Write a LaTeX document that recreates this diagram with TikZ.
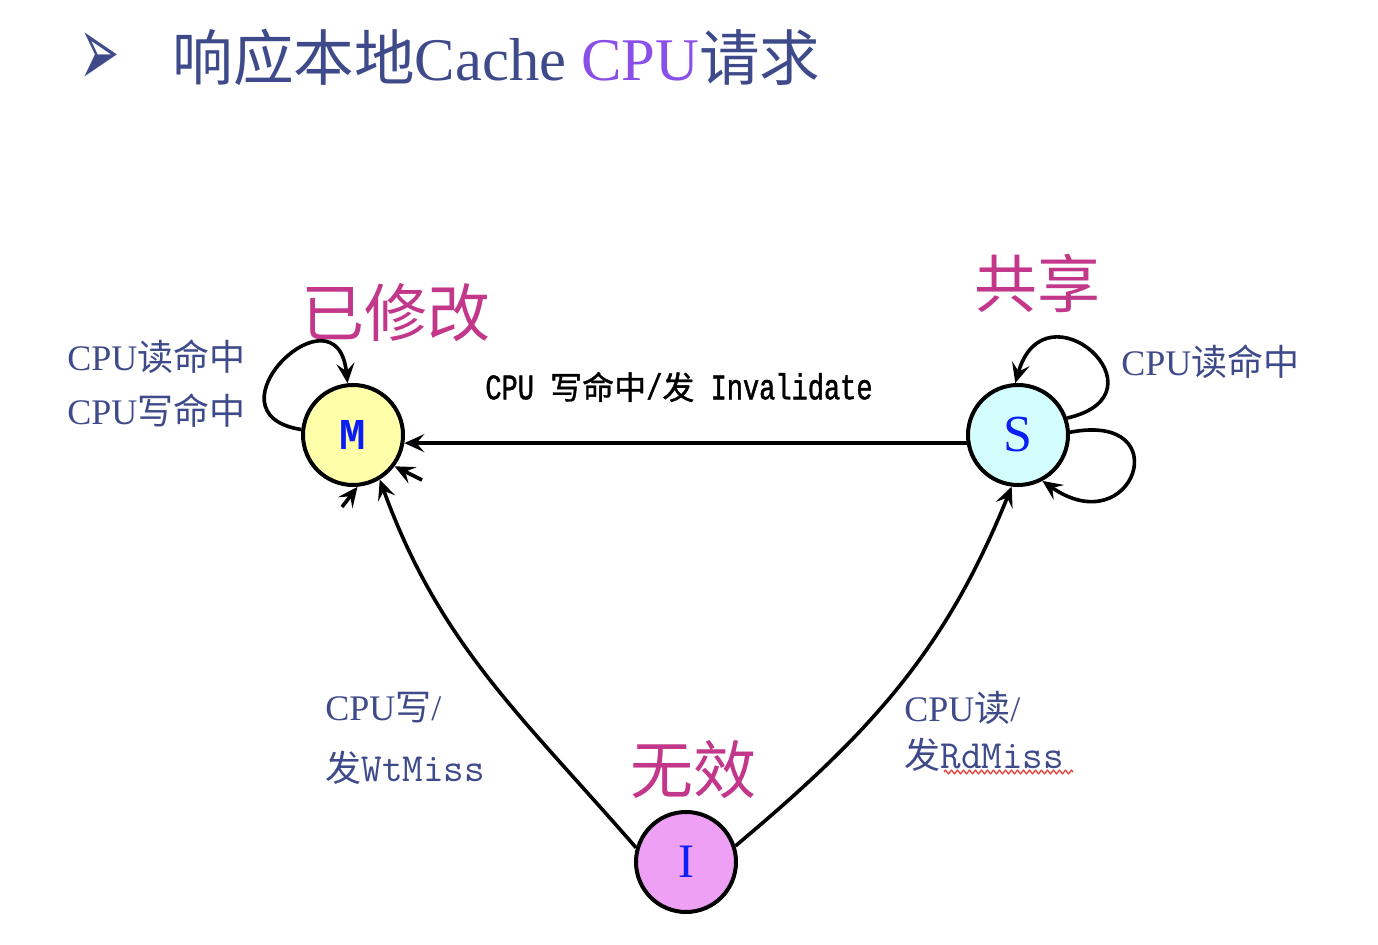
\documentclass[tikz,border=0pt]{standalone}
\usepackage{fontspec}
\setmainfont{Liberation Serif}
\newfontfamily\cjk{Noto Sans CJK SC}
\newfontfamily\cjkbold[FakeBold=1.2]{Noto Sans CJK SC}
\newfontfamily\monofont{Liberation Mono}
\newfontfamily\narrowmono[FakeStretch=0.75,FakeBold=1.2]{Liberation Mono}
\newfontfamily\symfont{DejaVu Sans}
\usepackage{xcolor}
\usepackage{tikz}
\usetikzlibrary{arrows.meta}
\usetikzlibrary{automata}
\usetikzlibrary{positioning}
\usetikzlibrary{decorations.pathmorphing}

\definecolor{labblue}{RGB}{63,74,138}
\definecolor{cpupurple}{RGB}{138,79,232}
\definecolor{headpink}{RGB}{194,55,138}
\definecolor{stblue}{RGB}{10,30,245}
\definecolor{mfill}{RGB}{255,255,170}
\definecolor{sfill}{RGB}{212,254,254}
\definecolor{ifill}{RGB}{238,160,245}
\definecolor{squig}{RGB}{230,50,40}

\newcommand{\zh}[1]{{\cjk #1}}
\newcommand{\invzh}[1]{{\cjkbold\fontsize{16}{18}\selectfont #1}}
\newcommand{\miss}[1]{{\ttfamily\fontsize{20}{22}\selectfont #1}}

\tikzset{
  every state/.style={draw, line width=2pt, minimum size=50pt, inner sep=0pt, text=stblue},
  trans/.style={line width=1.8pt, -{Stealth[length=10pt,width=9pt,inset=4pt]}},
  zhhead/.style={text=headpink, font=\cjk\fontsize{31.5}{34}\selectfont},
  lab/.style={text=labblue, anchor=west, inner sep=0pt, font=\fontsize{18}{20}\selectfont},
  squiggle/.style={draw=squig, line width=0.6pt, decorate,
    decoration={zigzag, segment length=3pt, amplitude=0.9pt}}
}

\begin{document}
\begin{tikzpicture}[x=0.5pt,y=0.5pt]
    \useasboundingbox (0,0) rectangle (1378,944);

    % title
    \node[text=labblue, inner sep=0pt, font=\symfont\fontsize{24}{26}\selectfont] (bullet) at (100,884)
        {\scalebox{1}[2.1]{➢}};
    \node[anchor=west, inner sep=0pt, text=labblue, font=\fontsize{30.3}{32}\selectfont] (title) at (172,887)
        {\zh{响应本地}Cache \textcolor{cpupurple}{CPU}\zh{请求}};

    % states
    \node[state, fill=mfill, font=\monofont\bfseries\fontsize{22}{24}\selectfont] (M) at (353,509) {M};
    \node[state, fill=sfill, font=\fontsize{26}{28}\selectfont] (S) at (1018,509) {S};
    \node[state, fill=ifill, font=\fontsize{24}{26}\selectfont] (I) at (686,82) {I};

    \node[zhhead] (Mname) at (396,631) {已修改};
    \node[zhhead] (Sname) at (1037,661) {共享};
    \node[zhhead] (Iname) at (693,174) {无效};

    % labels
    \node[lab] (Mrd) at (67,587) {CPU\zh{读命中}};
    \node[lab] (Mwr) at (67,533) {CPU\zh{写命中}};
    \node[lab] (Srd) at (1121,582) {CPU\zh{读命中}};
    \node[lab] (wmA) at (325,236) {CPU\zh{写}/};
    \node[lab] (wmB) at (325,176) {\zh{发}\miss{WtMiss}};
    \node[lab] (rmA) at (904,236) {CPU\zh{读}/};
    \node[lab] (rmB) at (904,189) {\zh{发}\miss{RdMiss}};
    \node[font=\narrowmono\fontsize{18}{20}\selectfont] (inv) at (679,557)
        {CPU \invzh{写命中}/\invzh{发} Invalidate};

    \coordinate (stubA) at (342,437);
    \coordinate (stubB) at (422,464);
    \coordinate (sqL) at (944,172);
    \coordinate (sqR) at (1073,172);

    \path[trans] (S.189) edge (M.-9)
                 (I.164) edge[out=131, in=-70] (M.-59)
                 (I.18) edge[out=40, in=-112] (S.-97)
                 (M.174) edge[out=171, in=96, looseness=4.0] (M.96)
                 (S.19) edge[out=13, in=74, looseness=4.4] (S.93)
                 (S.3) edge[out=11, in=-35, looseness=5.1] (S.-62)
                 (stubA) edge (M.-85)
                 (stubB) edge (M.-37)
                 ;

    \draw[squiggle] (sqL) -- (sqR);
\end{tikzpicture}
\end{document}
